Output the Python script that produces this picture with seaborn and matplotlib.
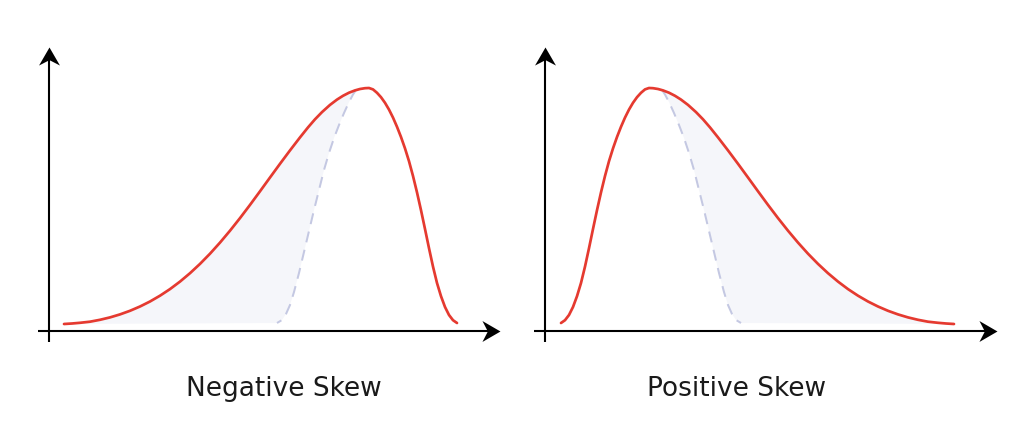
import numpy as np
import matplotlib
matplotlib.use("Agg")
import matplotlib.pyplot as plt
import seaborn as sns

# ---------------- data (arbitrary units) ----------------
titles = ["Negative Skew", "Positive Skew"]

# Negative skew: red density curve
neg_x = [15, 23, 31, 41, 51, 61, 71, 81, 91, 101, 111, 121, 131, 141, 151, 161,
         171, 181, 191, 201, 211, 221, 231, 241, 251, 259, 266, 273, 281, 288,
         294, 300, 306, 311, 316, 320, 324, 328, 332, 336, 340, 344, 348, 352,
         356, 360, 364, 368, 372, 376, 380, 384, 388, 392, 396, 400, 404, 408]
neg_y = [7.0, 7.5, 8.2, 9.3, 11.2, 13.6, 16.6, 20.2, 24.5, 29.5, 35.3, 41.9,
         49.4, 57.8, 67.1, 77.3, 88.4, 100.3, 112.9, 126.1, 139.7, 153.5, 167.2,
         180.6, 193.6, 203.6, 211.7, 218.9, 226.1, 231.4, 235.2, 238.3, 240.6,
         242.0, 242.8, 243.0, 241.6, 238.2, 233.8, 228.2, 221.4, 213.4, 204.2,
         194.0, 182.6, 169.8, 155.0, 138.6, 120.8, 102.0, 82.8, 64.4, 48.0,
         34.8, 24.0, 16.0, 10.8, 8.0]
# Negative skew: dashed symmetric reference (top -> bottom)
neg_ref_x = [307, 304, 300, 295, 290, 285, 280, 275, 270, 265, 260, 255, 250,
             245, 241, 237, 233, 228]
neg_ref_y = [241, 236.5, 229, 218, 206, 193, 178, 161, 141, 121, 100, 79, 58,
             39, 26, 17, 11, 8]

# Positive skew: red density curve
pos_x = [16, 20, 24, 28, 32, 36, 40, 44, 48, 52, 56, 60, 64, 68, 72, 76, 80,
         84, 88, 92, 96, 100, 104, 108, 113, 118, 124, 130, 136, 143, 151, 158,
         165, 173, 183, 193, 203, 213, 223, 233, 243, 253, 263, 273, 283, 293,
         303, 313, 323, 333, 343, 353, 363, 373, 383, 393, 401, 409]
pos_y = [8.0, 10.8, 16.0, 24.0, 34.8, 48.0, 64.4, 82.8, 102.0, 120.8, 138.6,
         155.0, 169.8, 182.6, 194.0, 204.2, 213.4, 221.4, 228.2, 233.8, 238.2,
         241.6, 243.0, 242.8, 242.0, 240.6, 238.3, 235.2, 231.4, 226.1, 218.9,
         211.7, 203.6, 193.6, 180.6, 167.2, 153.5, 139.7, 126.1, 112.9, 100.3,
         88.4, 77.3, 67.1, 57.8, 49.4, 41.9, 35.3, 29.5, 24.5, 20.2, 16.6, 13.6,
         11.2, 9.3, 8.2, 7.5, 7.0]
# Positive skew: dashed symmetric reference (top -> bottom)
pos_ref_x = [117, 120, 124, 129, 134, 139, 144, 149, 154, 159, 164, 169, 174,
             179, 183, 187, 191, 196]
pos_ref_y = [241, 236.5, 229, 218, 206, 193, 178, 161, 141, 121, 100, 79, 58,
             39, 26, 17, 11, 8]

# ---------------- styling ----------------
sns.set_theme(style="white")
plt.rcParams["font.family"] = ["DejaVu Sans"]

RED = "#e53a30"
DASH = "#c4c8e2"
FILL = "#f5f6fa"
INK = "#000000"

W, H = 1018, 432
fig = plt.figure(figsize=(W / 100, H / 100), dpi=100)
fig.patch.set_facecolor("white")

BASE_PY = 331  # pixel row of the x-axis


def make_axes(left_px, right_px, origin_px):
    ax = fig.add_axes([left_px / W, 0, (right_px - left_px) / W, 1])
    ax.set_xlim(left_px - origin_px, right_px - origin_px)
    ax.set_ylim(BASE_PY - H, BASE_PY)
    ax.axis("off")
    return ax


ax_neg = make_axes(0, 509, 49)
ax_pos = make_axes(509, 1018, 545)

up_arrow = [(0, 0), (-0.58, -1), (0, -0.7), (0.58, -1), (0, 0)]
right_arrow = [(0, 0), (-1, 0.58), (-0.7, 0), (-1, -0.58), (0, 0)]


def draw_axes_arrows(ax, x_end, y_end):
    ax.plot([-11, x_end - 10], [0, 0], color=INK, lw=1.5,
            solid_capstyle="butt", zorder=5)
    ax.plot([0, 0], [-11, y_end - 10], color=INK, lw=1.5,
            solid_capstyle="butt", zorder=5)
    ax.plot([x_end], [0], marker=right_arrow, markersize=26, color=INK,
            markeredgewidth=0, zorder=6)
    ax.plot([0], [y_end], marker=up_arrow, markersize=26, color=INK,
            markeredgewidth=0, zorder=6)


DASHES = (0, (5.5, 3.8))

# ---- Negative skew panel ----
nx, ny = np.array(neg_x), np.array(neg_y)
keep = nx < neg_ref_x[0]
poly_x = np.concatenate([nx[keep], neg_ref_x])
poly_y = np.concatenate([ny[keep], neg_ref_y])
ax_neg.fill(poly_x, poly_y, color=FILL, lw=0, zorder=1)
sns.lineplot(x=neg_ref_x, y=neg_ref_y, ax=ax_neg, color=DASH, lw=1.45,
             linestyle=DASHES, sort=False, estimator=None, zorder=2)
sns.lineplot(x=neg_x, y=neg_y, ax=ax_neg, color=RED, lw=1.95,
             sort=False, estimator=None, zorder=3)
draw_axes_arrows(ax_neg, 451, 284)
ax_neg.text(235, -65, titles[0], ha="center", va="baseline",
            fontsize=19, color="#1a1a1a")

# ---- Positive skew panel ----
px_, py_ = np.array(pos_x), np.array(pos_y)
keep = px_ > pos_ref_x[0]
poly_x = np.concatenate([pos_ref_x, px_[keep][::-1]])
poly_y = np.concatenate([pos_ref_y, py_[keep][::-1]])
ax_pos.fill(poly_x, poly_y, color=FILL, lw=0, zorder=1)
sns.lineplot(x=pos_ref_x, y=pos_ref_y, ax=ax_pos, color=DASH, lw=1.45,
             linestyle=DASHES, sort=False, estimator=None, zorder=2)
sns.lineplot(x=pos_x, y=pos_y, ax=ax_pos, color=RED, lw=1.95,
             sort=False, estimator=None, zorder=3)
draw_axes_arrows(ax_pos, 452, 284)
ax_pos.text(191.5, -65, titles[1], ha="center", va="baseline",
            fontsize=19, color="#1a1a1a")

for ax in (ax_neg, ax_pos):
    leg = ax.get_legend()
    if leg is not None:
        leg.remove()

fig.savefig("out.png", dpi=100, facecolor="white")
